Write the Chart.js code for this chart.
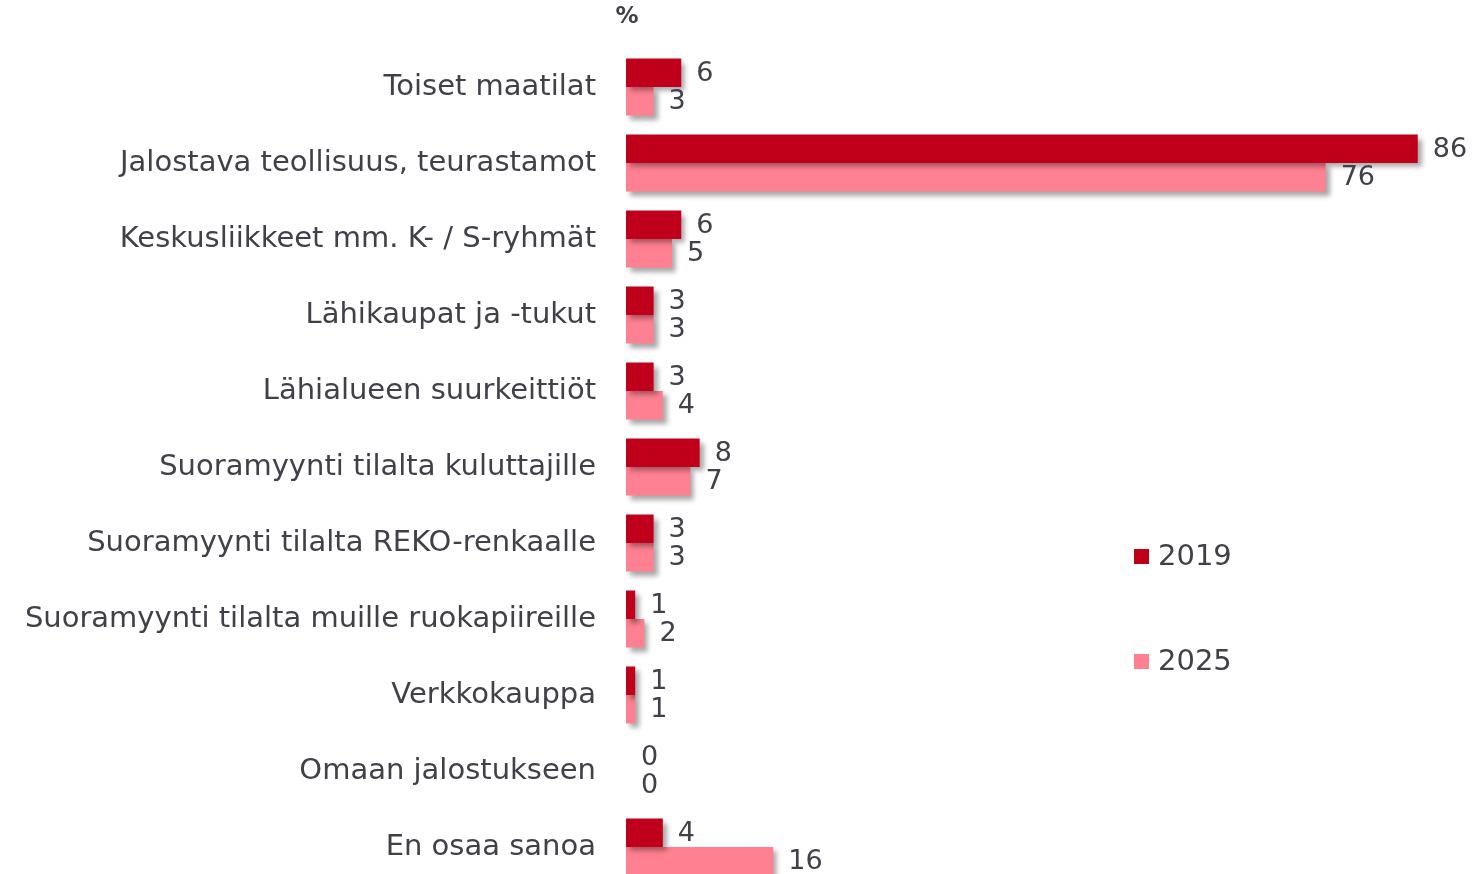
<!DOCTYPE html>
<html>
<head>
<meta charset="utf-8">
<script src="https://cdn.jsdelivr.net/npm/chart.js@4.4.1/dist/chart.umd.min.js"></script>
<style>
  html, body { margin: 0; padding: 0; background: #fff; overflow: hidden; }
  canvas { display: block; }
</style>
</head>
<body>
<canvas id="chart" width="1475" height="886"></canvas>
<script>
// Data
const kategoriat = [
    'Toiset maatilat',
    'Jalostava teollisuus, teurastamot',
    'Keskusliikkeet mm. K- / S-ryhmät',
    'Lähikaupat ja -tukut',
    'Lähialueen suurkeittiöt',
    'Suoramyynti tilalta kuluttajille',
    'Suoramyynti tilalta REKO-renkaalle',
    'Suoramyynti tilalta muille ruokapiireille',
    'Verkkokauppa',
    'Omaan jalostukseen',
    'En osaa sanoa'
];
const vuosi2019 = [6, 86, 6, 3, 3, 8, 3, 1, 1, 0, 4];
const vuosi2025 = [3, 76, 5, 3, 4, 7, 3, 2, 1, 0, 16];
const sarjat = ['2019', '2025'];
const varit = ['#C0001A', '#FF8090'];
const yksikko = '%';

const tekstiVari = '#404048';
const fontti = "'DejaVu Sans', Verdana, sans-serif";

// varjo pylväille
const varjoPlugin = {
    id: 'varjo',
    beforeDatasetDraw(chart) {
        const ctx = chart.ctx;
        ctx.save();
        ctx.shadowColor = 'rgba(0,0,0,0.35)';
        ctx.shadowBlur = 5;
        ctx.shadowOffsetX = 4;
        ctx.shadowOffsetY = 4;
    },
    afterDatasetDraw(chart) {
        chart.ctx.restore();
    }
};

// arvot pylväiden perään, %-merkki ja selite
const tekstitPlugin = {
    id: 'tekstit',
    afterDraw(chart) {
        const ctx = chart.ctx;
        const area = chart.chartArea;
        ctx.save();
        ctx.fillStyle = tekstiVari;
        ctx.font = '27px ' + fontti;
        ctx.textAlign = 'left';
        ctx.textBaseline = 'middle';
        chart.data.datasets.forEach((ds, di) => {
            chart.getDatasetMeta(di).data.forEach((bar, i) => {
                ctx.fillText(String(ds.data[i]), bar.x + 15, bar.y + 1);
            });
        });

        // yksikkö
        ctx.font = 'bold 23px ' + fontti;
        ctx.textAlign = 'center';
        ctx.fillText(yksikko, area.left + 1, 17);

        // selite
        const lx = area.left + 508;
        const ly = [556, 661];
        ctx.font = '29px ' + fontti;
        ctx.textAlign = 'left';
        chart.data.datasets.forEach((ds, di) => {
            ctx.fillStyle = ds.backgroundColor;
            ctx.fillRect(lx, ly[di] - 7, 15, 15);
            ctx.fillStyle = tekstiVari;
            ctx.fillText(ds.label, lx + 24, ly[di] + 1);
        });
        ctx.restore();
    }
};

new Chart(document.getElementById('chart'), {
    type: 'bar',
    data: {
        labels: kategoriat,
        datasets: [
            { label: sarjat[0], data: vuosi2019, backgroundColor: varit[0] },
            { label: sarjat[1], data: vuosi2025, backgroundColor: varit[1] }
        ]
    },
    options: {
        indexAxis: 'y',
        responsive: false,
        animation: false,
        categoryPercentage: 0.75,
        barPercentage: 1,
        layout: { padding: { top: 49, right: 2, bottom: 1, left: 0 } },
        plugins: {
            legend: { display: false },
            tooltip: { enabled: false }
        },
        scales: {
            x: {
                min: 0,
                max: 92,
                display: false
            },
            y: {
                grid: { display: false },
                border: { display: false },
                afterFit(scale) {
                    scale.width = 626;
                    scale.paddingTop = 0;
                    scale.paddingBottom = 0;
                },
                ticks: {
                    padding: 22,
                    color: tekstiVari,
                    font: { family: fontti, size: 29 }
                }
            }
        }
    },
    plugins: [varjoPlugin, tekstitPlugin]
});
</script>
</body>
</html>
